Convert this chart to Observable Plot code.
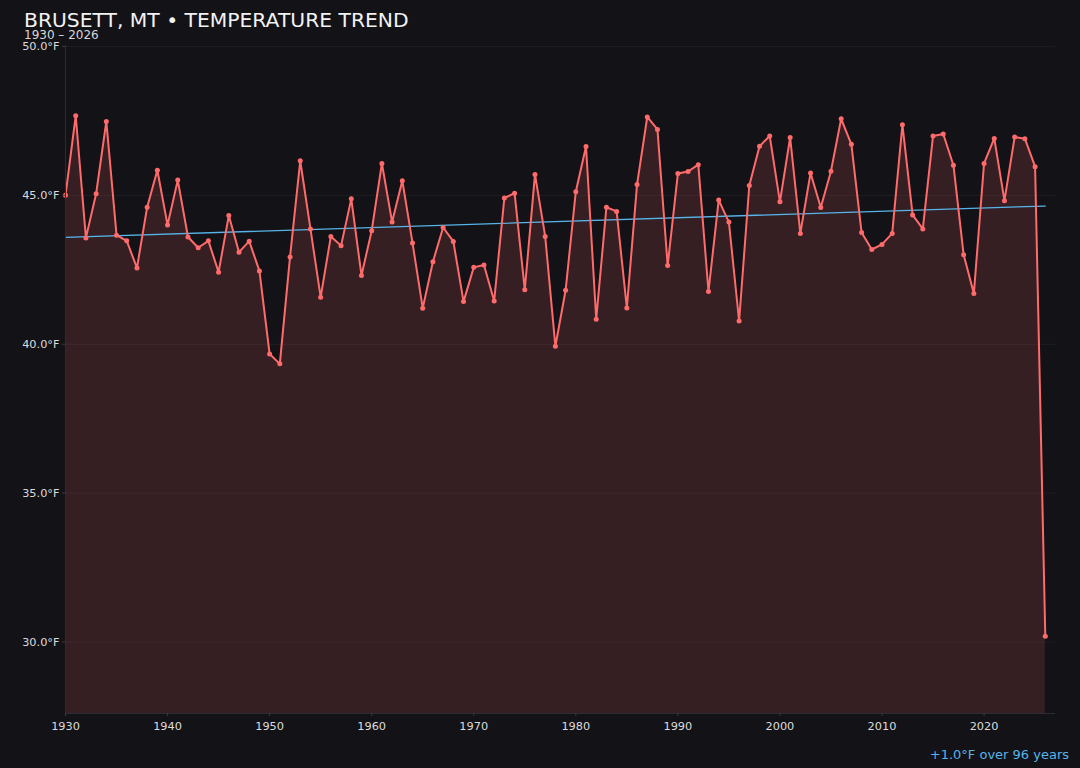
<!DOCTYPE html>
<html>
<head>
<meta charset="utf-8">
<script src="https://cdn.jsdelivr.net/npm/d3@7"></script>
<script src="https://cdn.jsdelivr.net/npm/@observablehq/plot@0.6"></script>
<style>
  html, body { margin: 0; padding: 0; background: #131217; }
  #wrap { position: relative; width: 1080px; height: 768px; overflow: hidden; font-family: "DejaVu Sans", sans-serif; }
  #title { position: absolute; left: 24px; top: 8px; font-size: 20.3px; color: #f2f2f2; white-space: nowrap; }
  #subtitle { position: absolute; left: 24px; top: 28px; font-size: 12px; color: #d8d8d8; white-space: nowrap; }
  #caption { position: absolute; right: 11px; top: 747px; font-size: 13px; color: #56b4e9; white-space: nowrap; }
  #chart { position: absolute; left: 0; top: 0; }
  #chart svg { font-family: "DejaVu Sans", sans-serif !important; font-size: 11.3px !important; }
</style>
</head>
<body>
<div id="wrap">
  <div id="chart"></div>
  <div id="title">BRUSETT, MT • TEMPERATURE TREND</div>
  <div id="subtitle">1930 – 2026</div>
  <div id="caption">+1.0°F over 96 years</div>
</div>
<script>
const years = d3.range(1930, 2027);
const temps = [
  45.00, 47.67, 43.57, 45.05, 47.48, 43.66, 43.47, 42.56, 44.60, 45.84,
  44.00, 45.51, 43.60, 43.24, 43.47, 42.42, 44.32, 43.09, 43.46, 42.46,
  39.67, 39.34, 42.93, 46.16, 43.87, 41.58, 43.62, 43.31, 44.88, 42.31,
  43.81, 46.07, 44.10, 45.49, 43.40, 41.21, 42.77, 43.92, 43.45, 41.43,
  42.58, 42.66, 41.45, 44.91, 45.07, 41.83, 45.70, 43.62, 39.93, 41.81,
  45.12, 46.64, 40.84, 44.60, 44.46, 41.22, 45.36, 47.63, 47.21, 42.64,
  45.73, 45.80, 46.03, 41.77, 44.84, 44.10, 40.78, 45.33, 46.65, 46.99,
  44.78, 46.94, 43.72, 45.75, 44.59, 45.81, 47.57, 46.71, 43.75, 43.18,
  43.35, 43.72, 47.37, 44.34, 43.87, 46.99, 47.06, 46.01, 43.00, 41.70,
  46.07, 46.91, 44.82, 46.96, 46.90, 45.96, 30.19
];
const yTicks = [30, 35, 40, 45, 50];
const xTicks = [1930, 1940, 1950, 1960, 1970, 1980, 1990, 2000, 2010, 2020];

const data = years.map((y, i) => ({year: y, temp: temps[i]}));

// least-squares trend line
const mx = d3.mean(years), my = d3.mean(temps);
const slope = d3.sum(years, (x, i) => (x - mx) * (temps[i] - my)) / d3.sum(years, x => (x - mx) ** 2);
const intercept = my - slope * mx;
const trend = [years[0], years[years.length - 1]].map(x => ({year: x, temp: intercept + slope * x}));

const yMin = 27.6;

const chart = Plot.plot({
  width: 1080,
  height: 768,
  marginTop: 45,
  marginBottom: 55,
  marginLeft: 65,
  marginRight: 25,
  style: { background: "transparent", color: "#dcdcdc" },
  x: { domain: [1930, 2027], label: null },
  y: { domain: [yMin, 50.03], label: null },
  marks: [
    Plot.gridY(yTicks, { stroke: "#ffffff", strokeOpacity: 0.05 }),
    Plot.areaY(data, { x: "year", y1: yMin, y2: "temp", fill: "#ff6b6b", fillOpacity: 0.15 }),
    Plot.line(trend, { x: "year", y: "temp", stroke: "#56b4e9", strokeWidth: 1.3 }),
    Plot.line(data, { x: "year", y: "temp", stroke: "#ff6b6b", strokeWidth: 2 }),
    Plot.dot(data, { x: "year", y: "temp", fill: "#ff6b6b", r: 2.5 }),
    Plot.ruleX([1930], { stroke: "#2c2c33" }),
    Plot.ruleY([yMin], { stroke: "#2c2c33" }),
    Plot.axisX({ ticks: xTicks, tickFormat: d => String(d), tickSize: 3, tickPadding: 5, stroke: "#3a3a42", fill: "#dcdcdc", fontSize: 11.3, label: null }),
    Plot.axisY({ ticks: yTicks, tickFormat: d => d.toFixed(1) + "°F", tickSize: 3, tickPadding: 3, stroke: "#3a3a42", fill: "#dcdcdc", fontSize: 11.3, label: null })
  ]
});
document.getElementById("chart").appendChild(chart);
</script>
</body>
</html>
